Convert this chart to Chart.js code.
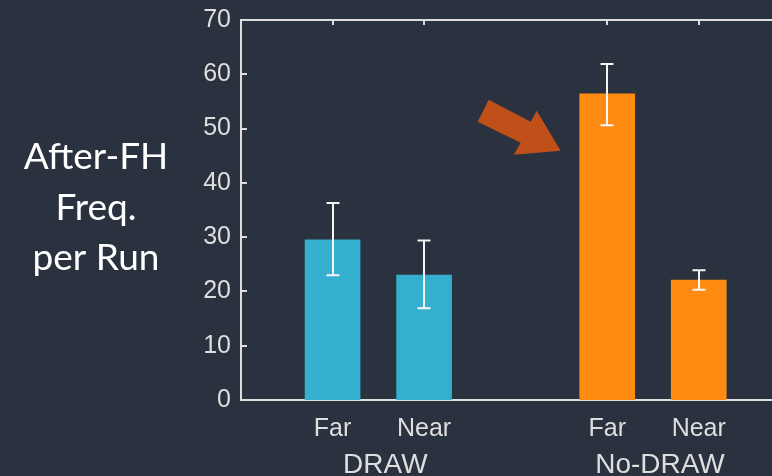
<!DOCTYPE html>
<html>
<head>
<meta charset="utf-8">
<script src="https://cdn.jsdelivr.net/npm/chart.js@4/dist/chart.umd.min.js"></script>
<style>
  html, body { margin: 0; padding: 0; background: #29323e; }
  #wrap { width: 772px; height: 476px; position: relative; }
</style>
</head>
<body>
<div id="wrap"><canvas id="c" width="772" height="476"></canvas></div>
<script>
// ---- data ----
const categories = ['', 'Far', 'Near', '', 'Far', 'Near'];
const means      = [null, 29.5, 23.0, null, 56.4, 22.1];
const errLow     = [null, 23.0, 16.9, null, 50.6, 20.3];
const errHigh    = [null, 36.3, 29.4, null, 61.9, 23.9];
const groupIndex = [-1, 0, 0, -1, 1, 1];
const groupLabels = ['DRAW', 'No-DRAW'];
const yTicks = [0, 10, 20, 30, 40, 50, 60, 70];
const yTitleLines = ['After-FH', 'Freq.', 'per Run'];
const highlightIndex = 4;

// ---- style ----
const groupColors = ['#35afd0', '#ff8b12'];
const axisColor = '#dedede';
const textColor = '#dedede';
const tickFont = { family: '"Liberation Sans", Arial, sans-serif', size: 25 };

const bgPlugin = {
  id: 'bg',
  beforeDraw(chart) {
    const ctx = chart.ctx;
    ctx.save();
    ctx.fillStyle = '#29323e';
    ctx.fillRect(0, 0, chart.width, chart.height);
    ctx.restore();
  }
};

const framePlugin = {
  id: 'frame',
  beforeDatasetsDraw(chart) {
    const { ctx, chartArea: a, scales: { x, y } } = chart;
    ctx.save();
    ctx.strokeStyle = axisColor;
    ctx.lineWidth = 2;
    ctx.beginPath();
    ctx.moveTo(a.left, a.top);
    ctx.lineTo(a.right, a.top);
    ctx.stroke();
    categories.forEach((c, i) => {
      if (!c) return;
      const px = Math.round(x.getPixelForValue(i));
      ctx.beginPath();
      ctx.moveTo(px, a.top); ctx.lineTo(px, a.top + 5);
      ctx.moveTo(px, a.bottom); ctx.lineTo(px, a.bottom - 5);
      ctx.stroke();
    });
    yTicks.forEach(v => {
      const py = Math.round(y.getPixelForValue(v));
      ctx.beginPath();
      ctx.moveTo(a.left, py); ctx.lineTo(a.left + 6, py);
      ctx.stroke();
    });
    ctx.restore();
  },
  afterDatasetsDraw(chart) {
    const { ctx, scales: { x, y } } = chart;
    const meta = chart.getDatasetMeta(0);
    ctx.save();
    ctx.strokeStyle = '#f4f4f4';
    ctx.lineWidth = 2;
    means.forEach((m, i) => {
      if (m === null) return;
      const el = meta.data[i];
      const px = Math.round(el.x);
      const yh = y.getPixelForValue(errHigh[i]);
      const yl = y.getPixelForValue(errLow[i]);
      ctx.beginPath();
      ctx.moveTo(px, yh); ctx.lineTo(px, yl);
      ctx.moveTo(px - 6.5, yh); ctx.lineTo(px + 6.5, yh);
      ctx.moveTo(px - 6.5, yl); ctx.lineTo(px + 6.5, yl);
      ctx.stroke();
    });
    const hb = meta.data[highlightIndex];
    const tipX = hb.x - hb.width / 2 - 19;
    const tipY = hb.y + 57;
    const pts = [[-72, -51], [-30, -29], [-24, -40], [0, 0], [-47, 4], [-40, -8], [-83, -29]];
    ctx.fillStyle = '#c0501a';
    ctx.beginPath();
    pts.forEach((p, k) => {
      const X = tipX + p[0], Y = tipY + p[1];
      if (k === 0) ctx.moveTo(X, Y); else ctx.lineTo(X, Y);
    });
    ctx.closePath();
    ctx.fill();
    ctx.restore();
  },
  afterDraw(chart) {
    const { ctx, scales: { x } } = chart;
    ctx.save();
    ctx.fillStyle = textColor;
    ctx.font = '28px "Liberation Sans", Arial, sans-serif';
    ctx.textAlign = 'center';
    ctx.textBaseline = 'alphabetic';
    groupLabels.forEach((g, gi) => {
      const idx = groupIndex.map((v, i) => v === gi ? i : -1).filter(i => i >= 0);
      const mid = (idx[0] + idx[idx.length - 1]) / 2;
      ctx.fillText(g, x.getPixelForValue(mid) + 7, 473);
    });
    ctx.fillStyle = '#ffffff';
    ctx.font = '37px Lato, "Open Sans", sans-serif';
    yTitleLines.forEach((t, k) => {
      ctx.fillText(t, 96, 169 + k * 50.5);
    });
    ctx.restore();
  }
};

new Chart(document.getElementById('c'), {
  type: 'bar',
  data: {
    datasets: [{
      data: means.map((v, i) => ({ x: i, y: v })),
      backgroundColor: groupIndex.map(g => g >= 0 ? groupColors[g] : 'transparent'),
      borderWidth: 0,
      barThickness: 55
    }]
  },
  options: {
    responsive: false,
    animation: false,
    layout: { padding: { top: 20, right: 0, left: 0, bottom: 0 } },
    plugins: { legend: { display: false }, tooltip: { enabled: false } },
    scales: {
      x: {
        type: 'linear',
        offset: false,
        min: 0,
        max: 5.8,
        grid: { display: false },
        border: { display: true, color: axisColor, width: 2 },
        afterBuildTicks(scale) {
          scale.ticks = categories.map((c, i) => ({ value: i })).filter(t => categories[t.value]);
        },
        afterFit(scale) { scale.height = 76; },
        ticks: {
          color: textColor,
          font: tickFont,
          padding: 6,
          autoSkip: false,
          maxRotation: 0,
          callback: (v) => categories[v]
        }
      },
      y: {
        min: 0,
        max: 70,
        grid: { display: false },
        border: { display: true, color: axisColor, width: 2 },
        afterBuildTicks(scale) { scale.ticks = yTicks.map(v => ({ value: v })); },
        afterFit(scale) { scale.width = 241; },
        ticks: { color: textColor, font: Object.assign({}, tickFont, { lineHeight: 0.6 }), padding: 2 }
      }
    }
  },
  plugins: [bgPlugin, framePlugin]
});
</script>
</body>
</html>
